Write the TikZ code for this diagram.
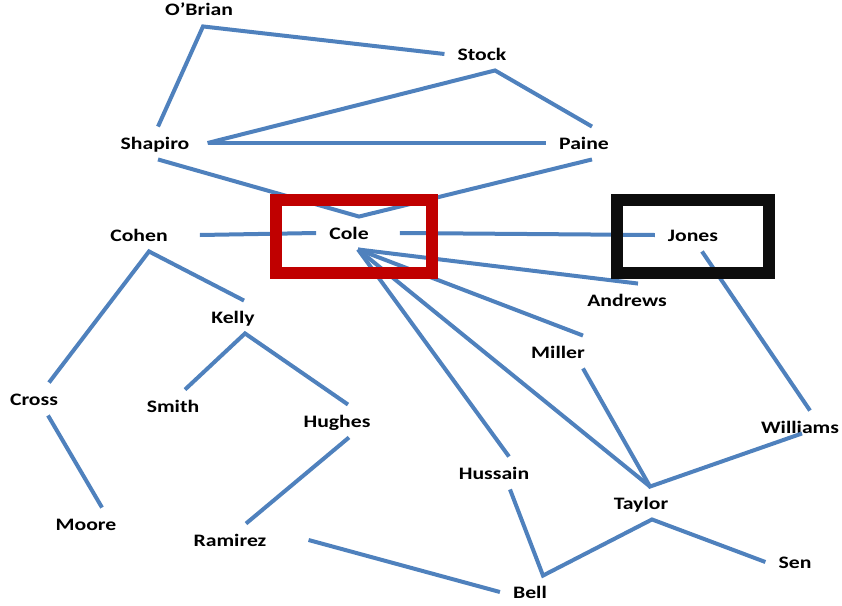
\documentclass[tikz,border=0pt]{standalone}
\usepackage{fontspec}
\newfontfamily\namefont{Carlito}[FakeStretch=1.24]
\usepackage{tikz}
\usetikzlibrary{calc}
\usetikzlibrary{positioning}

\definecolor{linkblue}{RGB}{79,129,189}
\definecolor{boxred}{RGB}{192,0,0}
\definecolor{boxblack}{RGB}{13,13,13}

\begin{document}
\begin{tikzpicture}[x=1pt,y=-1pt,
  person/.style={font=\namefont\bfseries\fontsize{17.5}{20}\selectfont,inner xsep=13pt,inner ysep=10.25pt,text height=12pt,text depth=0pt},
  link/.style={draw=linkblue,line width=4pt},
  frame/.style={line width=12pt,inner sep=0pt,minimum height=73pt}]

\useasboundingbox (0,0) rectangle (842,605);

\node[person] (obrian) at (199,10) {O’Brian};
\node[person] (stock) at (482,54) {Stock};
\node[person] (shapiro) at (155,143) {Shapiro};
\node[person] (paine) at (584,143) {Paine};
\node[person] (cohen) at (139,235) {Cohen};
\node[person] (cole) at (349,233) {Cole};
\node[person] (jones) at (693,235) {Jones};
\node[person] (andrews) at (627,300) {Andrews};
\node[person] (kelly) at (233,317) {Kelly};
\node[person] (miller) at (558,352) {Miller};
\node[person] (cross) at (34,399) {Cross};
\node[person] (smith) at (173,406) {Smith};
\node[person] (hughes) at (337,421) {Hughes};
\node[person] (williams) at (800,427) {Williams};
\node[person] (hussain) at (494,473) {Hussain};
\node[person] (taylor) at (641,503) {Taylor};
\node[person] (moore) at (86,524) {Moore};
\node[person] (ramirez) at (230,540) {Ramirez};
\node[person] (sen) at (795,562) {Sen};
\node[person] (bell) at (530,592) {Bell};

% top triangle
\draw[link] (stock.west) -- ([xshift=4pt]obrian.south) -- ([xshift=3pt]shapiro.north);
\draw[link] ([xshift=5pt]shapiro.east) -- ([xshift=13pt]stock.south) -- ([xshift=8pt]paine.north);
\draw[link] ([xshift=5pt]shapiro.east) -- (paine.west);
\draw[link] ([xshift=3pt]shapiro.south) -- ([xshift=10pt]cole.north) -- ([xshift=8pt]paine.south);

% cole and jones
\draw[link] ([xshift=19pt]cohen.east) -- (cole.west);
\draw[link] ([xshift=18pt]cole.east) -- (jones.west);
\draw[link] ([xshift=9pt]cole.south) -- ([xshift=11pt]andrews.north);
\draw[link] ([xshift=9pt]cole.south) -- ([xshift=25pt]miller.north);
\draw[link] ([xshift=9pt]cole.south) -- ([xshift=9pt]taylor.north);
\draw[link] ([xshift=9pt]cole.south) -- ([xshift=15pt]hussain.north);
\draw[link] ([xshift=9pt]jones.south) -- ([xshift=10pt]williams.north);

% taylor and bell
\draw[link] ([xshift=25pt]miller.south) -- ([xshift=9pt]taylor.north) -- ([xshift=2pt,yshift=10pt]williams.south);
\draw[link] ([xshift=16pt]hussain.south) -- ([xshift=13pt]bell.north) -- ([xshift=11pt]taylor.south) -- (sen.west);
\draw[link] ([xshift=29pt]ramirez.east) -- (bell.west);

% left tree
\draw[link] ([xshift=11pt]kelly.north) -- ([xshift=10pt]cohen.south) -- ([xshift=15pt]cross.north);
\draw[link] ([xshift=12pt]smith.north) -- ([xshift=12pt]kelly.south) -- ([xshift=11pt]hughes.north);
\draw[link] ([xshift=14pt]cross.south) -- ([xshift=16pt]moore.north);
\draw[link] ([xshift=12pt]hughes.south) -- ([xshift=16pt]ramirez.north);

\node[frame,draw=boxred,minimum width=156.5pt] (colebox) at ($(cole)+(5,3)$) {};
\node[frame,draw=boxblack,minimum width=151.5pt] (jonesbox) at ($(jones)+(0,1)$) {};
\end{tikzpicture}
\end{document}
